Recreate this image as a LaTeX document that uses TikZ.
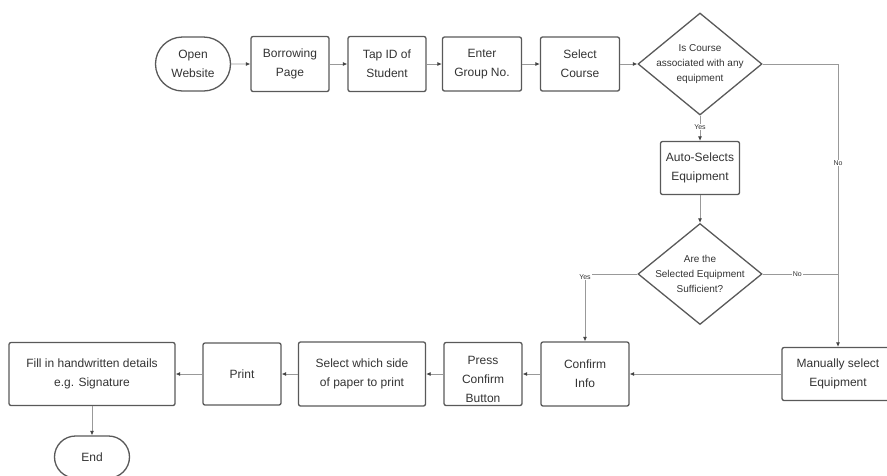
\documentclass[tikz,border=0pt]{standalone}
\usepackage{fontspec}
\setmainfont{Liberation Sans}
\usetikzlibrary{shapes.geometric,shapes.misc,arrows.meta}

\tikzset{
  box/.style={rectangle, rounded corners=2pt, draw=black!65, line width=1.3pt,
    text=black!80, align=center, font=\fontsize{12}{19}\selectfont, inner sep=1pt},
  term/.style={rounded rectangle, draw=black!65, line width=1.3pt,
    text=black!80, align=center, font=\fontsize{12}{19}\selectfont, inner sep=1pt},
  decision/.style={diamond, draw=black!65, line width=1.3pt, inner sep=0pt},
  dtext/.style={text=black!80, align=center, font=\fontsize{10}{15}\selectfont, inner sep=0pt},
  flow/.style={draw=black!40, line width=0.8pt, -{Latex[length=4.5pt,width=4pt,black!75]}},
  lbl/.style={font=\fontsize{7}{8}\selectfont, text=black!80, fill=white, inner sep=1pt}
}

\begin{document}
\begin{tikzpicture}[x=1pt, y=-1pt]
  \useasboundingbox (0,0) rectangle (887,475);

  % --- Riga superiore ---
  \node[term, minimum width=77pt, minimum height=54pt] (open) at (193,64) {Open\\Website};
  \node[box, minimum width=78pt, minimum height=55pt] (borrow) at (290,64) {Borrowing\\Page};
  \node[box, minimum width=78pt, minimum height=55pt] (tap) at (387,64) {Tap ID of\\Student};
  \node[box, minimum width=79pt, minimum height=54pt] (group) at (482,64) {Enter\\Group No.};
  \node[box, minimum width=79pt, minimum height=54pt] (course) at (580,64) {Select\\Course};
  \node[decision, minimum width=124pt, minimum height=102pt,
    label={[dtext]center:Is Course\\associated with any\\equipment}] (assoc) at (700,64) {};

  % --- Colonna centrale ---
  \node[box, minimum width=79pt, minimum height=53pt] (auto) at (700,168) {Auto-Selects\\Equipment};
  \node[decision, minimum width=124pt, minimum height=101pt,
    label={[dtext]center:Are the\\Selected Equipment\\Sufficient?}] (enough) at (700,274) {};

  % --- Riga inferiore ---
  \node[box, minimum width=112pt, minimum height=53pt] (manual) at (838,374) {Manually select\\Equipment};
  \node[box, minimum width=88pt, minimum height=64pt] (confirm) at (585,374) {Confirm\\Info};
  \node[box, minimum width=78pt, minimum height=63pt,
    label={[box, draw=none, yshift=-5pt]center:Press\\Confirm\\Button}] (press) at (483,374) {};
  \node[box, minimum width=127pt, minimum height=64pt] (side) at (362,374) {Select which side\\of paper to print};
  \node[box, minimum width=78pt, minimum height=62pt] (print) at (242,374) {Print};
  \node[box, minimum width=166pt, minimum height=63pt] (fill) at (92,374) {Fill in handwritten details\\e.g. Signature};
  \node[term, minimum width=77pt, minimum height=42pt] (end) at (92,457) {End};

  \coordinate (join) at (manual.north |- enough.east);

  % --- Collegamenti ---
  \draw[flow] (open) -- (borrow);
  \draw[flow] (borrow) -- (tap);
  \draw[flow] (tap) -- (group);
  \draw[flow] (group) -- (course);
  \draw[flow] (course) -- (assoc.west);
  \draw[flow] (assoc.south) -- node[lbl, pos=0.45] {Yes} (auto.north);
  \draw[flow] (assoc.east) -| node[lbl, pos=0.675] {No} (manual.north);
  \draw[flow] (auto) -- (enough.north);
  \draw[draw=black!40, line width=0.8pt] (enough.east) -- node[lbl, pos=0.46] {No} (join);
  \draw[flow] (enough.west) -| node[lbl, pos=0.5, yshift=-3pt] {Yes} (confirm.north);
  \draw[flow] (manual) -- (confirm);
  \draw[flow] (confirm) -- (press);
  \draw[flow] (press) -- (side);
  \draw[flow] (side) -- (print);
  \draw[flow] (print) -- (fill);
  \draw[flow] (fill) -- (end);
\end{tikzpicture}
\end{document}
